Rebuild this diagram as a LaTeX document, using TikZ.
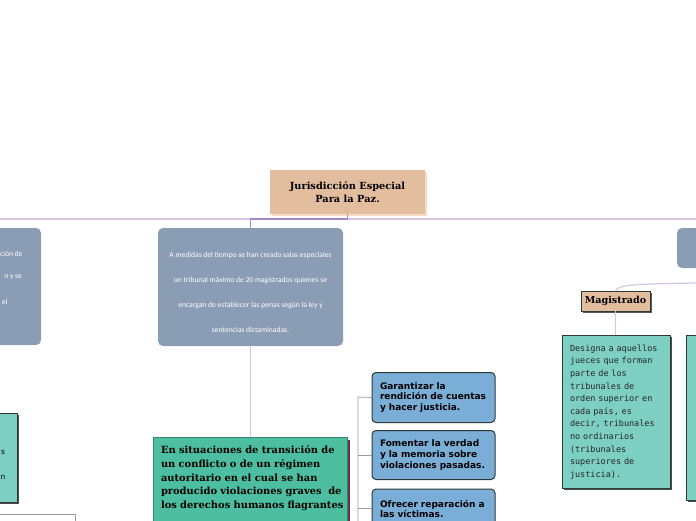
\documentclass[tikz,border=0pt]{standalone}
\usepackage{fontspec}
\newfontfamily\dvs{DejaVu Sans}
\newfontfamily\dvserif{DejaVu Serif}
\newfontfamily\dvm{DejaVu Sans Mono}
\newfontfamily\carl{Carlito}
\usetikzlibrary{shadows}
\definecolor{tanc}{HTML}{E3BE9E}
\definecolor{tanshadow}{HTML}{F3DDC9}
\definecolor{slate}{HTML}{8B9DB5}
\definecolor{greenc}{HTML}{4DBE9F}
\definecolor{tealc}{HTML}{7DCFC2}
\definecolor{bluec}{HTML}{7AAED6}
\definecolor{purl}{HTML}{D5C4E4}
\definecolor{purd}{HTML}{A886C9}
\definecolor{darkb}{HTML}{2E3A3A}
\definecolor{grayline}{HTML}{9A9A9A}
\begin{document}
\begin{tikzpicture}[x=1pt,y=-1pt,
  every node/.style={inner sep=0pt,outer sep=0pt},
  topbox/.style={fill=tanc,minimum width=155pt,minimum height=44pt,align=center,
    font=\dvserif\bfseries\fontsize{9.8}{12.5}\selectfont,
    drop shadow={shadow xshift=2pt,shadow yshift=-2pt,fill=tanshadow,opacity=1}},
  slatebox/.style={fill=slate,rounded corners=5pt},
  slatetext/.style={text=white,align=center,font=\carl\fontsize{7.6}{25}\selectfont},
  greenbox/.style={fill=greenc,draw=greenc!70!black,line width=0.4pt,
    drop shadow={shadow xshift=2.5pt,shadow yshift=-2.5pt,fill=black!55!purple!60!gray,opacity=1}},
  greentext/.style={align=left,text width=186pt,font=\dvserif\bfseries\fontsize{9.9}{13.8}\selectfont},
  bluebox/.style={fill=bluec,draw=darkb,line width=1pt,rounded corners=4pt,
    minimum width=123pt,text width=107pt,inner xsep=8pt,align=left,
    font=\dvs\bfseries\fontsize{9}{10.6}\selectfont},
  tealbox/.style={fill=tealc,draw=darkb,line width=0.8pt,
    drop shadow={shadow xshift=2pt,shadow yshift=-2pt,fill=black!70,opacity=1}},
  tealtext/.style={align=left,text width=96pt,text=black!85,font=\dvm\fontsize{8.5}{12.6}\selectfont},
  magbox/.style={fill=tanc,draw=darkb,line width=0.6pt,minimum width=69pt,minimum height=20pt,
    font=\dvserif\bfseries\fontsize{9.6}{11}\selectfont,
    drop shadow={shadow xshift=2pt,shadow yshift=-2pt,fill=black!65,opacity=1}},
  lightlink/.style={draw=purl,line width=1.2pt},
  darklink/.style={draw=purd,line width=1.2pt},
  graylink/.style={draw=grayline,line width=0.7pt}
]
\useasboundingbox (0,0) rectangle (696,520);
\fill[white] (0,0) rectangle (696,520);

% top node
\node[topbox] (jep) at (347.5,192) {Jurisdicción Especial\\Para la Paz.};

% slate boxes
\node[slatebox,minimum width=185pt,minimum height=118pt] (mid) at (250.5,287) {};
\node[slatetext] (midtxt) at (250.5,292) {A medidas del tiempo se han creado salas especiales\\un tribunal máximo de 20 magistrados quienes se\\encargan de establecer las penas según la ley y\\sentencias dictaminadas.};
\node[slatebox,minimum width=110pt,minimum height=117pt] (leftbox) at (-14,286.5) {};
\node[text=white,anchor=east,font=\carl\fontsize{7.6}{8}\selectfont] (lt1) at (22.5,253.5) {ción de};
\node[text=white,anchor=east,font=\carl\fontsize{7.6}{8}\selectfont] (lt2) at (22,277.5) {n y se};
\node[text=white,anchor=east,font=\carl\fontsize{7.6}{8}\selectfont] (lt3) at (7.5,302) {el};
\node[slatebox,minimum width=100pt,minimum height=40pt] (rightbox) at (727,248) {};

% green box
\node[greenbox,minimum width=194pt,minimum height=100pt,anchor=north west] (green) at (153,437) {};
\node[greentext,anchor=north west] (greentxt) at (161,445.5) {En situaciones de transición de\\un conflicto o de un régimen\\autoritario en el cual se han\\producido violaciones graves~ de\\los derechos humanos flagrantes};

% blue boxes
\node[bluebox,minimum height=50pt] (b1) at (433.5,397.5) {Garantizar la\\rendición de cuentas\\y hacer justicia.};
\node[bluebox,minimum height=49pt] (b2) at (433.5,455) {Fomentar la verdad\\y la memoria sobre\\violaciones pasadas.};
\node[bluebox,minimum height=40pt,anchor=north,inner ysep=7pt] (b3) at (433.5,489) {Ofrecer reparación a\\las víctimas.};

% left teal and outline
\node[tealbox,minimum width=80pt,minimum height=89pt] (lteal) at (-23,457.5) {};
\node[font=\dvs\fontsize{7.5}{9}\selectfont] (ls) at (3,452) {s};
\node[font=\dvs\fontsize{7.5}{9}\selectfont] (ln) at (3,477) {n};
\node[draw=grayline,line width=0.7pt,minimum width=90pt,minimum height=20pt,anchor=north east] (lrect) at (75,514) {};

% Magistrado branch
\node[magbox] (mag) at (615.5,301) {Magistrado};
\node[tealbox,minimum width=108pt,minimum height=153pt] (teal) at (616,411.5) {};
\node[tealtext] (tealtxt) at (618,412) {Designa a aquellos\\jueces que forman\\parte de los\\tribunales de\\orden superior en\\cada país, es\\decir, tribunales\\no ordinarios\\(tribunales\\superiores de\\justicia).};
\node[tealbox,minimum width=80pt,minimum height=165pt,anchor=north west] (teal2) at (686,335) {};

% connectors
\coordinate (hl) at (0,219);
\coordinate (hr) at (696,219);
\coordinate (rexit) at (696,283);
\coordinate (gtop) at (358,397);
\coordinate (gbot) at (358,525);
\coordinate (b3m) at (433.5,508);
\draw[lightlink] (hl) -- (hr);
\draw[darklink] (jep.south) -- ++(0,5) -| (mid.north);
\draw[lightlink] (mid.south) -- (mid.south |- green.north);
\draw[lightlink] (rexit) .. controls (640,284) and (618,284) .. (mag.north);
\draw[lightlink] (mag.south) -- (mag.south |- teal.north);
\draw[graylink] (gbot) -- (gtop) -- (b1.west);
\draw[graylink] (b2.west) -- (b2.west -| gtop);
\draw[graylink] (b3.west |- b3m) -- (gtop |- b3m);
\end{tikzpicture}
\end{document}
